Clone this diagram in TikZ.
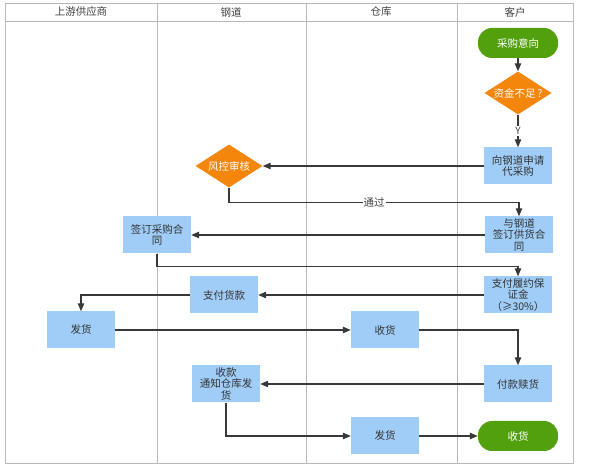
\documentclass[tikz,border=0pt]{standalone}
\usepackage{fontspec}
\setmainfont{Noto Sans CJK SC}
\usetikzlibrary{shapes.geometric,arrows.meta}
\definecolor{boxblue}{HTML}{9FCDF7}
\definecolor{termgreen}{HTML}{52A00E}
\definecolor{decorange}{HTML}{F5860C}
\begin{document}
\begin{tikzpicture}[x=1pt,y=-1pt,
        font=\fontsize{10.5}{11.7}\selectfont,
        lane/.style={draw=black!28, line width=0.8pt},
        head/.style={text=black!75},
        stepbox/.style={fill=boxblue, minimum width=68pt, minimum height=37pt, inner sep=1pt, align=center, text=black!80},
        term/.style={fill=termgreen, rounded corners=14pt, minimum width=80pt, minimum height=30pt, text=white},
        decide/.style={diamond, fill=decorange, minimum width=67pt, minimum height=43pt, inner sep=0pt, text=white},
        flow/.style={draw=black!78, line width=1.1pt, -{Triangle[length=8pt,width=6.5pt]}},
        tag/.style={fill=white, inner sep=1pt, text=black!75}]
        \useasboundingbox (0,0) rectangle (590,465);
        \draw[lane] (5,3) rectangle (573,463);
        \draw[lane] (5,21) -- (573,21);
        \draw[lane] (157,3) -- (157,463);
        \draw[lane] (306,3) -- (306,463);
        \draw[lane] (457,3) -- (457,463);

        \node[head] (supplier) at (81,12) {上游供应商};
        \node[head] (gangdao) at (231,12) {钢道};
        \node[head] (depot) at (381,12) {仓库};
        \node[head] (client) at (515,12) {客户};

        \node[term] (intent) at (518,43) {采购意向};
        \node[decide] (fund) at (518,93) {\makebox[0pt]{资金不足\,?}};
        \node[stepbox] (apply) at (518,166) {向钢道申请\\代采购};
        \node[decide] (risk) at (229,166) {\makebox[0pt]{风控审核}};
        \node[stepbox] (supply) at (519,235) {与钢道\\签订供货合\\同};
        \node[stepbox] (purchase) at (157,235) {签订采购合\\同};
        \node[stepbox] (deposit) at (518,295) {支付履约保\\证金\\（≥30\%）};
        \node[stepbox] (paygoods) at (224,295) {支付货款};
        \node[stepbox] (shipa) at (81,330) {发货};
        \node[stepbox] (receive) at (385,330) {收货};
        \node[stepbox] (redeem) at (518,384) {付款赎货};
        \node[stepbox] (notify) at (226,384) {收款\\通知仓库发\\货};
        \node[stepbox] (shipb) at (385,436) {发货};
        \node[term] (done) at (518,436) {收货};

        \draw[flow] (intent) -- (fund);
        \draw[flow] (fund) -- (apply) node[midway, tag, font=\fontsize{10}{11}\selectfont]{Y};
        \draw[flow] (apply) -- (risk);
        \draw[flow] (risk.south) -- ++(0,14.7) -| (supply.north) node[pos=0.25, tag]{通过};
        \draw[flow] (supply) -- (purchase);
        \draw[flow] (purchase.south) -- ++(0,13) -| (deposit.north);
        \draw[flow] (deposit) -- (paygoods);
        \draw[flow] (paygoods.west) -| (shipa.north);
        \draw[flow] (shipa) -- (receive);
        \draw[flow] (receive.east) -| (redeem.north);
        \draw[flow] (redeem) -- (notify);
        \draw[flow] (notify.south) |- (shipb.west);
        \draw[flow] (shipb) -- (done);
\end{tikzpicture}
\end{document}
